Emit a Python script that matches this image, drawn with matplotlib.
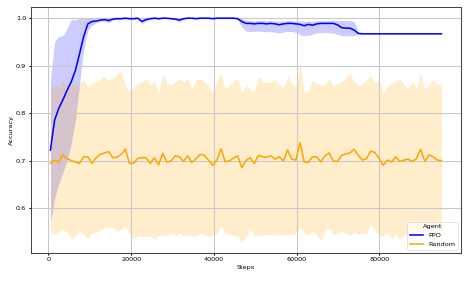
import numpy as np
import matplotlib
matplotlib.use("Agg")
import matplotlib.pyplot as plt

# evaluation steps (95 evaluations)
steps = np.linspace(500, 95000, 95)

ppo_mean = [
    0.722, 0.785, 0.810, 0.828, 0.848, 0.866, 0.890, 0.925, 0.962, 0.988,
    0.993, 0.994, 0.996, 0.997, 0.995, 0.998, 0.999, 0.999, 1.000, 0.999,
    0.999, 1.000, 0.993, 0.997, 0.999, 1.000, 0.999, 1.000, 1.000, 0.999,
    0.998, 0.996, 0.999, 1.000, 1.000, 0.999, 1.000, 1.000, 1.000, 0.999,
    1.000, 1.000, 1.000, 1.000, 1.000, 0.999, 0.993, 0.989, 0.989, 0.988,
    0.989, 0.989, 0.988, 0.989, 0.988, 0.986, 0.988, 0.989, 0.989, 0.988,
    0.987, 0.984, 0.987, 0.985, 0.988, 0.989, 0.989, 0.989, 0.989, 0.986,
    0.980, 0.979, 0.979, 0.975, 0.968, 0.967, 0.967, 0.967, 0.967, 0.967,
    0.967, 0.967, 0.967, 0.967, 0.967, 0.967, 0.967, 0.967, 0.967, 0.967,
    0.967, 0.967, 0.967, 0.967, 0.967,
]
ppo_lo = [
    0.570, 0.620, 0.652, 0.675, 0.700, 0.735, 0.785, 0.860, 0.935, 0.975,
    0.985, 0.990, 0.993, 0.994, 0.990, 0.996, 0.997, 0.997, 0.999, 0.997,
    0.997, 0.999, 0.988, 0.994, 0.997, 0.999, 0.997, 0.999, 0.999, 0.997,
    0.996, 0.992, 0.997, 0.999, 0.999, 0.997, 0.999, 0.999, 0.999, 0.997,
    0.999, 0.999, 0.999, 0.999, 0.999, 0.996, 0.982, 0.973, 0.972, 0.972,
    0.973, 0.972, 0.971, 0.972, 0.970, 0.969, 0.971, 0.972, 0.972, 0.970,
    0.965, 0.963, 0.964, 0.966, 0.969, 0.969, 0.970, 0.969, 0.969, 0.966,
    0.963, 0.963, 0.963, 0.963, 0.966, 0.967, 0.967, 0.967, 0.967, 0.967,
    0.967, 0.967, 0.967, 0.967, 0.967, 0.967, 0.967, 0.967, 0.967, 0.967,
    0.967, 0.967, 0.967, 0.967, 0.967,
]
ppo_hi = [
    0.870, 0.950, 0.962, 0.963, 0.978, 0.998, 0.996, 1.000, 1.000, 1.000,
    1.000, 0.998, 0.999, 1.000, 0.999, 1.000, 1.000, 1.000, 1.000, 1.000,
    1.000, 1.000, 0.997, 1.000, 1.000, 1.000, 1.000, 1.000, 1.000, 1.000,
    1.000, 0.999, 1.000, 1.000, 1.000, 1.000, 1.000, 1.000, 1.000, 1.000,
    1.000, 1.000, 1.000, 1.000, 1.000, 1.000, 0.999, 0.996, 0.995, 0.994,
    0.995, 0.995, 0.994, 0.995, 0.994, 0.993, 0.994, 0.995, 0.995, 0.994,
    0.994, 0.993, 0.994, 0.993, 0.995, 0.995, 0.995, 0.995, 0.996, 0.995,
    0.995, 0.995, 0.995, 0.993, 0.972, 0.967, 0.967, 0.967, 0.967, 0.967,
    0.967, 0.967, 0.967, 0.967, 0.967, 0.967, 0.967, 0.967, 0.967, 0.967,
    0.967, 0.967, 0.967, 0.967, 0.967,
]

rnd_mean = [
    0.694, 0.701, 0.697, 0.712, 0.704, 0.700, 0.697, 0.694, 0.708, 0.708,
    0.694, 0.706, 0.713, 0.716, 0.719, 0.706, 0.707, 0.713, 0.724, 0.694,
    0.694, 0.705, 0.706, 0.706, 0.694, 0.706, 0.691, 0.715, 0.697, 0.699,
    0.710, 0.708, 0.698, 0.710, 0.696, 0.704, 0.713, 0.711, 0.701, 0.690,
    0.701, 0.725, 0.698, 0.699, 0.705, 0.710, 0.685, 0.700, 0.706, 0.694,
    0.711, 0.708, 0.707, 0.710, 0.703, 0.708, 0.699, 0.722, 0.703, 0.701,
    0.738, 0.697, 0.696, 0.708, 0.708, 0.697, 0.710, 0.716, 0.699, 0.698,
    0.711, 0.714, 0.716, 0.724, 0.711, 0.701, 0.704, 0.720, 0.717, 0.705,
    0.690, 0.701, 0.697, 0.708, 0.698, 0.701, 0.703, 0.698, 0.704, 0.724,
    0.698, 0.712, 0.708, 0.701, 0.700,
]
rnd_lo = [
    0.546, 0.545, 0.550, 0.554, 0.550, 0.535, 0.542, 0.551, 0.546, 0.536,
    0.547, 0.549, 0.553, 0.560, 0.559, 0.559, 0.551, 0.556, 0.561, 0.548,
    0.534, 0.542, 0.540, 0.541, 0.541, 0.534, 0.543, 0.541, 0.542, 0.547,
    0.542, 0.548, 0.541, 0.544, 0.542, 0.541, 0.547, 0.544, 0.540, 0.542,
    0.544, 0.564, 0.546, 0.545, 0.543, 0.540, 0.529, 0.540, 0.556, 0.541,
    0.542, 0.543, 0.544, 0.545, 0.543, 0.543, 0.544, 0.545, 0.543, 0.546,
    0.561, 0.547, 0.543, 0.550, 0.543, 0.530, 0.550, 0.559, 0.543, 0.546,
    0.552, 0.546, 0.542, 0.550, 0.545, 0.547, 0.545, 0.567, 0.551, 0.544,
    0.540, 0.549, 0.536, 0.545, 0.533, 0.544, 0.548, 0.545, 0.541, 0.556,
    0.542, 0.546, 0.548, 0.545, 0.545,
]
rnd_hi = [
    0.852, 0.859, 0.855, 0.869, 0.859, 0.862, 0.860, 0.864, 0.870, 0.855,
    0.862, 0.868, 0.871, 0.878, 0.869, 0.874, 0.883, 0.886, 0.860, 0.845,
    0.856, 0.862, 0.866, 0.872, 0.859, 0.868, 0.842, 0.883, 0.863, 0.859,
    0.866, 0.873, 0.865, 0.873, 0.850, 0.870, 0.872, 0.866, 0.859, 0.842,
    0.865, 0.885, 0.850, 0.859, 0.866, 0.873, 0.842, 0.858, 0.852, 0.845,
    0.878, 0.866, 0.864, 0.866, 0.871, 0.860, 0.853, 0.877, 0.862, 0.855,
    0.906, 0.843, 0.847, 0.869, 0.862, 0.860, 0.859, 0.873, 0.856, 0.862,
    0.866, 0.873, 0.884, 0.866, 0.857, 0.862, 0.870, 0.879, 0.864, 0.870,
    0.841, 0.856, 0.863, 0.866, 0.873, 0.860, 0.852, 0.866, 0.852, 0.885,
    0.850, 0.860, 0.870, 0.860, 0.862,
]

plt.rcParams["axes.linewidth"] = 1.6
plt.rcParams["grid.linewidth"] = 1.6
plt.rcParams["xtick.major.width"] = 1.6
plt.rcParams["ytick.major.width"] = 1.6
plt.rcParams["axes.edgecolor"] = "#444444"

fig, ax = plt.subplots(figsize=(10, 6.005), dpi=46.8)

ax.fill_between(steps, ppo_lo, ppo_hi, color="blue", alpha=0.2, linewidth=0)
ax.plot(steps, ppo_mean, color="blue", lw=2.4, label="PPO")
ax.fill_between(steps, rnd_lo, rnd_hi, color="orange", alpha=0.2, linewidth=0)
ax.plot(steps, rnd_mean, color="orange", lw=2.4, label="Random")

ax.set_xlabel("Steps")
ax.set_ylabel("Accuracy")
ax.set_yticks([0.6, 0.7, 0.8, 0.9, 1.0])
ax.grid(True, color="#c8c8c8")
ax.legend(title="Agent", loc="lower right")

plt.subplots_adjust(left=0.066, right=0.985, top=0.975, bottom=0.1)
plt.savefig("out.png")
